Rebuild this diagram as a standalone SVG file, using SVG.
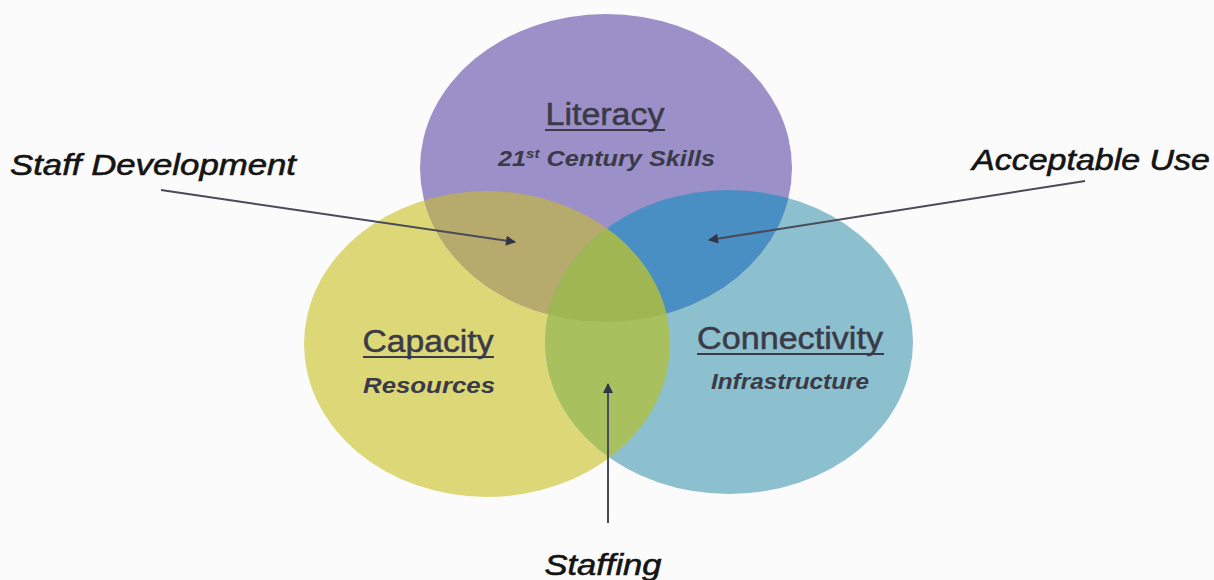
<svg xmlns="http://www.w3.org/2000/svg" width="1214" height="580" viewBox="0 0 1214 580">
<style>
.t{font-family:"Liberation Sans",Arial,sans-serif;fill:#3a3a48}
.h{font-size:31px;stroke:#3a3a48;stroke-width:0.5}
.s{font-size:22px;font-style:italic;font-weight:bold}
.lab{font-family:"Liberation Sans",Arial,sans-serif;font-size:30px;font-style:italic;fill:#141414;stroke:#141414;stroke-width:0.6}
.ul{stroke:#3a3a48;stroke-width:2.2}
.con{stroke:#4a4a58;stroke-width:2;fill:none;marker-end:url(#ah)}
</style>
<defs>
<marker id="ah" viewBox="0 0 10 10" refX="9" refY="5" markerWidth="11" markerHeight="10" markerUnits="userSpaceOnUse" orient="auto">
<path d="M0,0 L10,5 L0,10 z" fill="#33334a"/>
</marker>
<ellipse id="eP" cx="606" cy="168" rx="186" ry="154"/>
<ellipse id="eY" cx="487" cy="344" rx="183" ry="153"/>
<ellipse id="eT" cx="729" cy="342" rx="184" ry="152"/>
<clipPath id="cP"><use href="#eP"/></clipPath>
<clipPath id="cY"><use href="#eY"/></clipPath>
<clipPath id="cT"><use href="#eT"/></clipPath>
</defs>
<rect width="1214" height="580" fill="#fbfbfb"/>
<g id="capacity">
<use href="#eY" fill="#ddd877"/>
</g>
<g id="connectivity">
<use href="#eT" fill="#8cc0ce"/>
</g>
<g id="literacy">
<use href="#eP" fill="#9b90c8"/>
</g>
<g id="overlaps">
<use href="#eP" fill="#b6aa6c" clip-path="url(#cY)"/>
<use href="#eP" fill="#4a8fc3" clip-path="url(#cT)"/>
<use href="#eY" fill="#a8c05e" clip-path="url(#cT)"/>
<g clip-path="url(#cP)"><use href="#eY" fill="#9fb653" clip-path="url(#cT)"/></g>
</g>
<g id="literacy-text">
<text class="t h" x="605" y="125" text-anchor="middle" textLength="119" lengthAdjust="spacingAndGlyphs">Literacy</text>
<line class="ul" x1="545" y1="130" x2="665" y2="130"/>
<text class="t s" x="498" y="166" textLength="217" lengthAdjust="spacingAndGlyphs">21<tspan font-size="13" dy="-8">st</tspan><tspan dy="8"> Century Skills</tspan></text>
</g>
<g id="capacity-text">
<text class="t h" x="428" y="352" text-anchor="middle" textLength="131" lengthAdjust="spacingAndGlyphs">Capacity</text>
<line class="ul" x1="363" y1="357" x2="494" y2="357"/>
<text class="t s" x="429" y="393" text-anchor="middle" textLength="132" lengthAdjust="spacingAndGlyphs">Resources</text>
</g>
<g id="connectivity-text">
<text class="t h" x="790" y="349" text-anchor="middle" textLength="186" lengthAdjust="spacingAndGlyphs">Connectivity</text>
<line class="ul" x1="697" y1="354" x2="884" y2="354"/>
<text class="t s" x="790" y="389" text-anchor="middle" textLength="158" lengthAdjust="spacingAndGlyphs">Infrastructure</text>
</g>
<g id="staff-development">
<text class="lab" x="10" y="175" textLength="286" lengthAdjust="spacingAndGlyphs">Staff Development</text>
</g>
<g id="acceptable-use">
<text class="lab" x="972" y="170" textLength="238" lengthAdjust="spacingAndGlyphs">Acceptable Use</text>
</g>
<g id="staffing">
<text class="lab" x="603" y="575" text-anchor="middle" textLength="117" lengthAdjust="spacingAndGlyphs">Staffing</text>
</g>
<g id="connectors">
<line class="con" x1="161" y1="190" x2="515" y2="242"/>
<line class="con" x1="1085" y1="181" x2="709" y2="240"/>
<line class="con" x1="608" y1="523" x2="608" y2="384"/>
</g>
</svg>
